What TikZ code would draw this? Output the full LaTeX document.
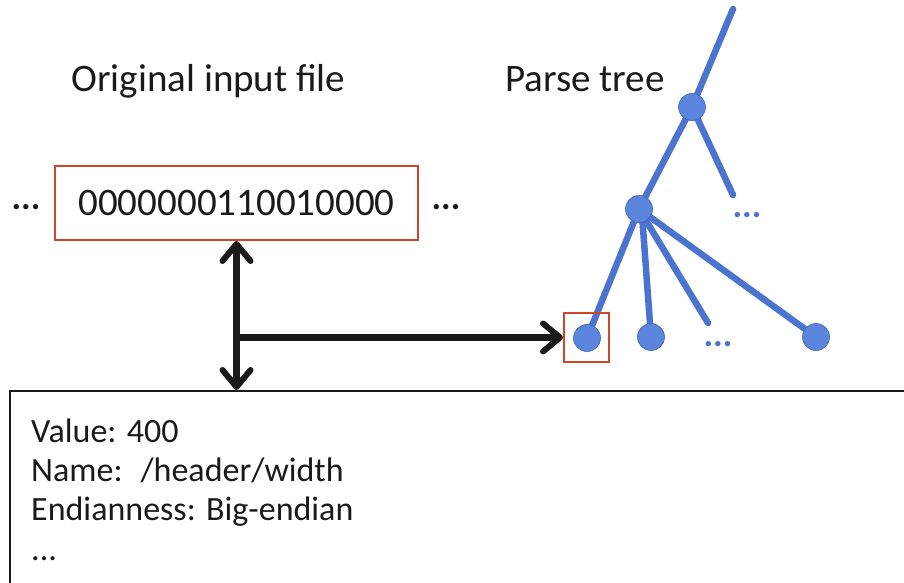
\documentclass[tikz,border=0pt]{standalone}
\usepackage{fontspec}
\setmainfont{Carlito}
\usetikzlibrary{arrows.meta,backgrounds}
\definecolor{treeblue}{RGB}{74,116,208}
\definecolor{nodeblue}{RGB}{92,134,222}
\definecolor{boxred}{RGB}{205,72,42}
\definecolor{ink}{RGB}{26,26,26}
\begin{document}
\begin{tikzpicture}[x=1pt,y=-1pt,
  treeline/.style={draw=treeblue, line width=6.5pt, line cap=round},
  treenode/.style={circle, fill=nodeblue, draw=treeblue!85!black, line width=0.6pt, minimum size=27pt, inner sep=0pt},
  redbox/.style={draw=boxred, line width=2pt, inner sep=0pt},
  titletext/.style={font=\fontsize{39}{44}\selectfont, anchor=base, text=ink},
  infotext/.style={font=\fontsize{34}{39}\selectfont, anchor=base west, text=ink, inner sep=0pt},
  tip/.tip={Straight Barb[length=17pt,width=28pt,line width=6pt,round]},
  arrowline/.style={draw=ink, line width=6.5pt, -tip},
  dblarrow/.style={draw=ink, line width=6.5pt, tip-tip},
  blackdots/.style={font=\fontsize{36}{39}\selectfont\bfseries, text=ink},
  bluedots/.style={font=\fontsize{36}{39}\selectfont\bfseries, text=treeblue}
]
\useasboundingbox (0,0) rectangle (904,582);
\clip (0,0) rectangle (904,582);

% titles
\node[titletext] (t1) at (208.5,91) {Original input file};
\node[titletext] (t2) at (585,91) {Parse tree};

% input file box
\node[redbox, minimum width=363pt, minimum height=74pt, font=\fontsize{39}{44}\selectfont, text=ink] (bin) at (236.5,203) {0000000110010000};
\node[blackdots] (dl) at (26,207) {...};
\node[blackdots] (dr) at (446,207) {...};

% parse tree
\node[treenode] (A) at (692,107) {};
\coordinate (Atop) at (733,9);
\coordinate (Aend) at (733,195);
\node[treenode] (B) at (639,209) {};
\node[treenode] (L1) at (587,338) {};
\node[treenode] (L2) at (651,337) {};
\coordinate (Bend) at (708,323);
\node[treenode] (L4) at (816,337) {};
\node[bluedots] (d1) at (747,215) {...};
\node[bluedots] (d2) at (718,344) {...};
\begin{scope}[on background layer]
  \draw[treeline] (A.center) -- (Atop);
  \draw[treeline] (A.center) -- (Aend);
  \draw[treeline] (A.center) -- (B.center);
  \draw[treeline] (B.center) -- (L1.center);
  \draw[treeline] (B.-75) -- (L2.center);
  \draw[treeline] (B.center) -- (Bend);
  \draw[treeline] (B.center) -- (L4.center);
\end{scope}

% selected leaf
\node[redbox, minimum width=45pt, minimum height=49pt] (sel) at (586.5,337.5) {};

% info box
\node[draw=ink, line width=1.8pt, anchor=north west, minimum width=1000pt, minimum height=300pt] (info) at (9,390) {};
\node[infotext] (v1) at (31,442) {Value: 400};
\node[infotext] (v2) at (31,481) {Name: \ /header/width};
\node[infotext] (v3) at (31,520) {Endianness: Big-endian};
\node[infotext] (v4) at (31,560) {...};

% arrows
\coordinate (J) at (bin.south |- sel.west);
\draw[dblarrow] (bin.south) -- (bin.south |- info.north);
\draw[arrowline] (J) -- (sel.west);
\end{tikzpicture}
\end{document}
